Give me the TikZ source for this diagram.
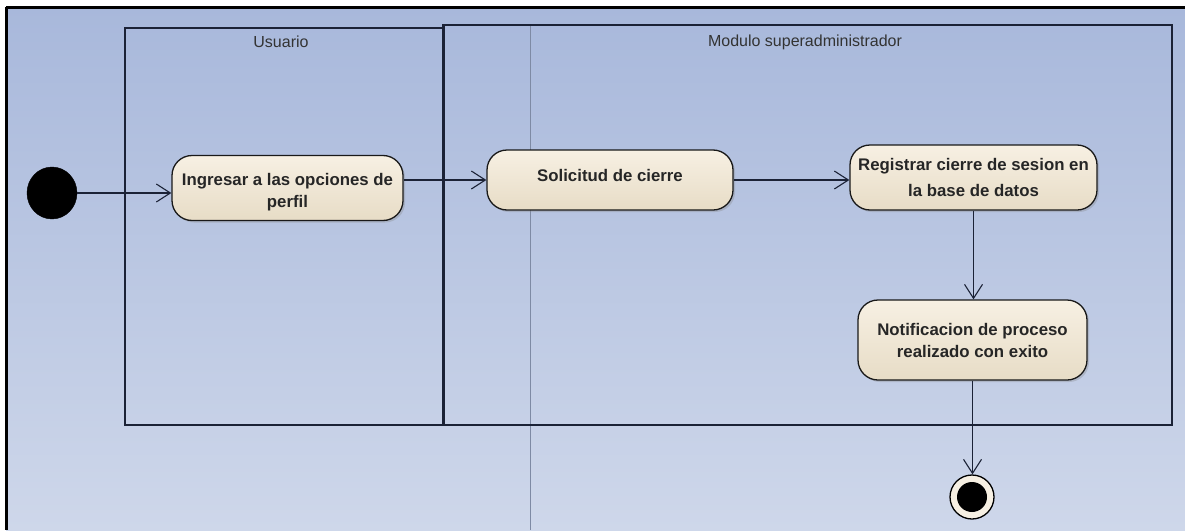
\documentclass[tikz,border=0pt]{standalone}
\usepackage{fontspec}
\setmainfont{Liberation Sans}
\usepackage{tikz}
\usetikzlibrary{arrows.meta,shadows,shapes.geometric}

\definecolor{canvastop}{HTML}{A8B8DB}
\definecolor{canvasbot}{HTML}{CED7EA}
\definecolor{actfilltop}{HTML}{F7F0E3}
\definecolor{actfillbot}{HTML}{E7DCC6}
\definecolor{laneline}{HTML}{1B2236}

\begin{document}
\begin{tikzpicture}[
    x=1pt, y=-1pt,
    every node/.style={font=\fontsize{16}{19}\selectfont, text=black!80},
    action/.style={draw=black!90, line width=1.3pt, rounded corners=20pt,
        top color=actfilltop, bottom color=actfillbot, align=center,
        inner sep=0pt, text=black!85,
        font=\bfseries\fontsize{16.8}{22}\selectfont,
        drop shadow={shadow xshift=2pt, shadow yshift=-2pt, opacity=0.3}},
    flow/.style={draw=laneline, line width=1.1pt,
        -{Straight Barb[length=14pt, width=18pt, line width=1.1pt]}},
    lane/.style={draw=laneline, line width=1.4pt}
]
\useasboundingbox (0,0) rectangle (1185,530);
\fill[white] (0,0) rectangle (1185,530);
\shade[top color=canvastop, bottom color=canvasbot] (6,7) rectangle (1185,530);
\draw[black, line width=3pt] (6,7) -- (1185,7);
\draw[black, line width=3pt] (6,7) -- (6,530);

\draw[black!25!canvastop, line width=0.8pt] (530,25) -- (530,530);

\draw[lane] (125,28) rectangle (443,425);
\draw[lane] (443,25) rectangle (1172,425);
\draw[laneline, line width=3pt] (443,25) -- (443,425);

\node (lblusuario) at (281,42) {Usuario};
\node (lblmodulo) at (805,42) {Modulo superadministrador};

\node[fill=black, ellipse, minimum width=50pt, minimum height=52pt, inner sep=0pt, draw=black] (inicio) at (52,193) {};

\node[action, minimum width=231pt, minimum height=65pt] (ingresar) at (287.5,188) {\rule{0pt}{21pt}Ingresar a las opciones de\\perfil};
\node[action, minimum width=246pt, minimum height=60pt] (solicitud) at (610,180) {Solicitud de cierre\\[-12pt]\mbox{}};
\node[action, minimum width=247pt, minimum height=65pt] (registrar) at (973.5,177.5) {Registrar cierre de sesion en\\[4pt]la base de datos};
\node[action, minimum width=229pt, minimum height=80pt] (notificacion) at (972.5,340) {Notificacion de proceso\\realizado con exito};

\node[circle, draw=black, line width=1.3pt, fill=actfilltop, minimum size=44pt, inner sep=0pt] (fin) at (972,497) {};
\node[circle, fill=black, minimum size=30pt, inner sep=0pt] (finpunto) at (fin) {};

\draw[flow] (inicio) -- (inicio -| ingresar.west);
\draw[flow] (ingresar.east |- solicitud) -- (solicitud.west);
\draw[flow] (solicitud.east) -- (solicitud.east -| registrar.west);
\draw[flow] (registrar.south) -- (registrar.south |- notificacion.north);
\draw[flow] (notificacion.south) -- (notificacion.south |- fin.north);
\end{tikzpicture}
\end{document}
